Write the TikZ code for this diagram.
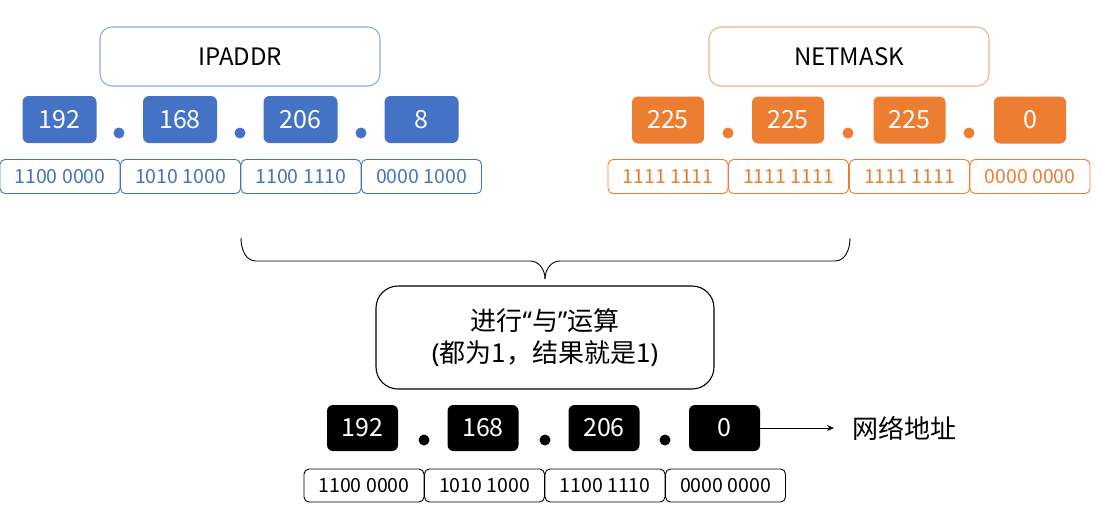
\documentclass[tikz,border=0pt]{standalone}
\usepackage{fontspec}
\setmainfont{Noto Sans CJK SC}
\newfontfamily\latinfont{Noto Sans}
\usetikzlibrary{arrows.meta}
\definecolor{myblue}{HTML}{4472C4}
\definecolor{myorange}{HTML}{ED7D31}
\definecolor{lightblue}{HTML}{8FAADC}
\definecolor{lightorange}{HTML}{F4B183}
\begin{document}
\begin{tikzpicture}[x=1pt,y=-1pt,
  titlebox/.style={draw, rounded corners=12pt, line width=1.1pt, minimum width=280pt, minimum height=59pt, inner sep=0pt, font=\fontsize{24}{28}\selectfont},
  numbox/.style={rounded corners=6pt, minimum width=74pt, minimum height=47pt, inner sep=0pt, text=white, font=\fontsize{25}{28}\selectfont},
  binbox/.style={draw, rounded corners=5pt, line width=0.9pt, minimum width=120pt, minimum height=34pt, inner sep=0pt, font=\fontsize{19.5}{22}\selectfont},
  dotc/.style={circle, inner sep=0pt, minimum size=11pt}]
\useasboundingbox (0,0) rectangle (1108,531);
% IPADDR
\node[titlebox, draw=lightblue] (ip) at (240,56.5) {IPADDR};
\foreach \n/\x/\t in {a/59.5/192, b/180/168, c/300.5/206, d/421.5/8}
  \node[numbox, fill=myblue] (ipn\n) at (\x,119.5) {\t};
\foreach \n/\x in {a/119, b/240, c/361}
  \node[dotc, fill=myblue] (ipdot\n) at (\x,133) {};
\foreach \n/\x/\t in {a/60/1100 0000, b/180.5/1010 1000, c/301/1100 1110, d/421.5/0000 1000}
  \node[binbox, draw=myblue, text=myblue] (ipb\n) at (\x,176.5) {\t};
% NETMASK
\node[titlebox, draw=lightorange] (nm) at (849,56.5) {NETMASK};
\foreach \n/\x/\t in {a/668/225, b/788/225, c/909.5/225, d/1030/0}
  \node[numbox, fill=myorange, minimum width=72pt] (nmn\n) at (\x,120) {\t};
\foreach \n/\x in {a/728, b/848, c/969}
  \node[dotc, fill=myorange] (nmdot\n) at (\x,133) {};
\foreach \n/\x/\t in {a/668/1111 1111, b/788.5/1111 1111, c/909.5/1111 1111, d/1030/0000 0000}
  \node[binbox, draw=myorange, text=myorange] (nmb\n) at (\x,176.5) {\t};
% brace
\coordinate (bl) at (241,238);
\coordinate (br) at (850,238);
\coordinate (bt) at (545,279);
\draw[line width=0.9pt] (bl) to[out=-90,in=180] (256,261) -- (530,261) to[out=0,in=90] (bt);
\draw[line width=0.9pt] (br) to[out=-90,in=0] (835,261) -- (560,261) to[out=180,in=90] (bt);
% operation box
\node[draw, line width=1.1pt, rounded corners=22pt, minimum width=338pt, minimum height=103pt, align=center, font=\fontsize{26}{32}\selectfont] (op) at (545,337.5) {进行{\latinfont “}与{\latinfont ”}运算\\{\latinfont (}都为1，结果就是1{\latinfont )}};
% result
\foreach \n/\x/\t in {a/362.5/192, b/483/168, c/604/206, d/724.5/0}
  \node[numbox, fill=black, minimum width=71pt, minimum height=46pt] (rn\n) at (\x,428) {\t};
\foreach \n/\x in {a/424, b/545, c/665}
  \node[dotc, fill=black] (rdot\n) at (\x,440) {};
\foreach \n/\x/\t in {a/364/1100 0000, b/484.5/1010 1000, c/605/1100 1110, d/725.5/0000 0000}
  \node[binbox, draw=black, minimum height=33pt] (rb\n) at (\x,485.5) {\t};
\node[font=\fontsize{26}{30}\selectfont, anchor=west, inner sep=0pt] (net) at (852,428) {网络地址};
\draw[-{Stealth[length=7pt,width=6pt]}, line width=0.9pt] (rnd.east) -- ([xshift=-18pt]net.west);
\end{tikzpicture}
\end{document}
